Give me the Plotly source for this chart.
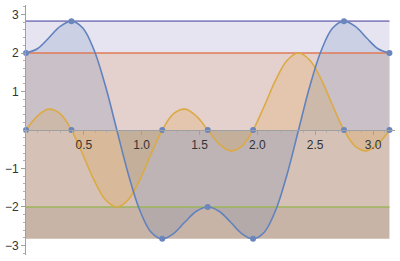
import plotly.graph_objects as go

# sample positions along x (multiples of pi/32)
x_vals = [0.0, 0.098, 0.196, 0.295, 0.393, 0.491, 0.589, 0.687, 0.785, 0.884, 0.982,
          1.080, 1.178, 1.276, 1.374, 1.473, 1.571, 1.669, 1.767, 1.865, 1.963, 2.062,
          2.160, 2.258, 2.356, 2.454, 2.553, 2.651, 2.749, 2.847, 2.945, 3.043, 3.142]
blue_vals = [2.0, 2.111, 2.389, 2.690, 2.828, 2.648, 2.072, 1.141, 0.0, -1.141, -2.072,
             -2.648, -2.828, -2.690, -2.389, -2.111, -2.0, -2.111, -2.389, -2.690, -2.828,
             -2.648, -2.072, -1.141, 0.0, 1.141, 2.072, 2.648, 2.828, 2.690, 2.389, 2.111, 2.0]
orange_vals = [0.0, 0.361, 0.541, 0.425, 0.0, -0.636, -1.307, -1.812, -2.0, -1.812, -1.307,
               -0.636, 0.0, 0.425, 0.541, 0.361, 0.0, -0.361, -0.541, -0.425, 0.0, 0.636,
               1.307, 1.812, 2.0, 1.812, 1.307, 0.636, 0.0, -0.425, -0.541, -0.361, 0.0]

marker_x = [0.0, 0.393, 1.178, 1.571, 1.963, 2.749, 3.142]
marker_blue = [2.0, 2.828, -2.828, -2.0, -2.828, 2.828, 2.0]
marker_orange = [0.0, 0.0, 0.0, 0.0, 0.0, 0.0, 0.0]

span_x = [0.0, 3.142]
level_purple = 2.828
level_red = 2.0
level_green = -2.0
level_low = -2.828

x_ticks = [0.5, 1.0, 1.5, 2.0, 2.5, 3.0]
x_ticktext = ["0.5", "1.0", "1.5", "2.0", "2.5", "3.0"]
y_ticks = [-3, -2, -1, 1, 2, 3]
y_ticktext = ["\u22123", "\u22122", "\u22121", "1", "2", "3"]

fig = go.Figure()

# constant-level fills
fig.add_trace(go.Scatter(x=span_x, y=[level_purple] * 2, mode="lines", line=dict(width=0),
                         fill="tozeroy", fillcolor="#e6e4f1", hoverinfo="skip"))
fig.add_trace(go.Scatter(x=span_x, y=[level_red] * 2, mode="lines", line=dict(width=0),
                         fill="tozeroy", fillcolor="#e4d0cd", hoverinfo="skip"))
fig.add_trace(go.Scatter(x=span_x, y=[level_green] * 2, mode="lines", line=dict(width=0),
                         fill="tozeroy", fillcolor="#d6c1b6", hoverinfo="skip"))
fig.add_trace(go.Scatter(x=span_x, y=[level_low] * 2, mode="lines", line=dict(width=0),
                         fill="tonexty", fillcolor="#c8b4a7", hoverinfo="skip"))

# curve fills
fig.add_trace(go.Scatter(x=x_vals, y=blue_vals, mode="lines", line=dict(width=0, shape="spline"),
                         fill="tozeroy", fillcolor="rgba(94,129,181,0.2)", hoverinfo="skip"))
fig.add_trace(go.Scatter(x=x_vals, y=orange_vals, mode="lines", line=dict(width=0, shape="spline"),
                         fill="tozeroy", fillcolor="rgba(225,156,36,0.18)", hoverinfo="skip"))

# lines
fig.add_trace(go.Scatter(x=span_x, y=[level_purple] * 2, mode="lines",
                         line=dict(color="#8a86bf", width=1.6)))
fig.add_trace(go.Scatter(x=span_x, y=[level_red] * 2, mode="lines",
                         line=dict(color="#e07a55", width=1.6)))
fig.add_trace(go.Scatter(x=span_x, y=[level_green] * 2, mode="lines",
                         line=dict(color="#9db45a", width=1.6)))
fig.add_trace(go.Scatter(x=x_vals, y=orange_vals, mode="lines",
                         line=dict(color="#dcaa45", width=1.6, shape="spline")))
fig.add_trace(go.Scatter(x=x_vals, y=blue_vals, mode="lines",
                         line=dict(color="#6282bd", width=1.6, shape="spline")))

# markers
fig.add_trace(go.Scatter(x=marker_x, y=marker_orange, mode="markers",
                         marker=dict(color="#6a86bd", size=6), cliponaxis=False))
fig.add_trace(go.Scatter(x=marker_x, y=marker_blue, mode="markers",
                         marker=dict(color="#6a86bd", size=6), cliponaxis=False))

fig.update_layout(
    width=400, height=261,
    margin=dict(l=17, r=5, t=5, b=6),
    paper_bgcolor="white", plot_bgcolor="white",
    showlegend=False,
    font=dict(family="Liberation Sans, Arial, sans-serif", size=12, color="#333333"),
    xaxis=dict(range=[0, 3.19], anchor="free", position=0.5,
               showgrid=False, zeroline=False, showline=True, linecolor="#a0a0a0", linewidth=1,
               tickvals=x_ticks, ticktext=x_ticktext, ticks="outside", ticklen=4,
               tickcolor="#a0a0a0",
               minor=dict(dtick=0.1, ticks="outside", ticklen=2, tickcolor="#b0b0b0")),
    yaxis=dict(range=[-3.247, 3.247], showgrid=False, zeroline=False, showline=True,
               linecolor="#a0a0a0", linewidth=1,
               tickvals=y_ticks, ticktext=y_ticktext, ticks="outside", ticklen=4,
               tickcolor="#a0a0a0",
               minor=dict(dtick=0.2, ticks="outside", ticklen=2, tickcolor="#b0b0b0")),
)

fig.write_html("out.html")
